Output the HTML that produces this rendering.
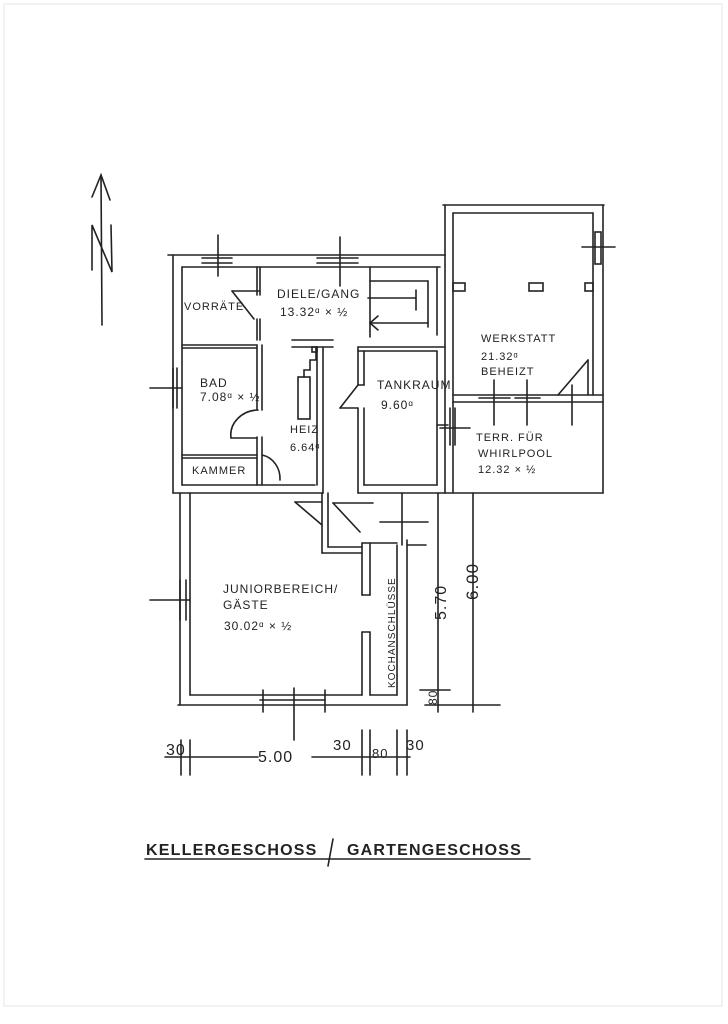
<!DOCTYPE html>
<html><head><style>
html,body{margin:0;padding:0;background:#fff;}
svg{display:block}
text{font-family:"Liberation Sans",sans-serif;fill:#222}
</style></head><body>
<svg width="728" height="1024" viewBox="0 0 728 1024" xmlns="http://www.w3.org/2000/svg">
<rect x="0" y="0" width="728" height="1024" fill="#fff"/>
<rect x="4" y="4" width="718" height="1002" fill="none" stroke="#e4e4e4" stroke-width="1"/>
<g stroke="#222" stroke-width="1.6" fill="none" stroke-linecap="round">
<!-- north arrow -->
<line x1="101" y1="175" x2="102" y2="325"/>
<polyline points="92,197 101,175 110,200"/>
<polyline points="92,270 92,225 112,272 111,225"/>
<!-- upper block outer -->
<line x1="168" y1="255" x2="445" y2="255"/>
<line x1="173" y1="255" x2="173" y2="493"/>
<line x1="182" y1="267" x2="182" y2="485"/>
<line x1="182" y1="267" x2="257" y2="267"/>
<line x1="257" y1="267" x2="440" y2="267"/>
<line x1="173" y1="493" x2="323" y2="493"/>
<line x1="182" y1="485" x2="315" y2="485"/>
<!-- window marks top -->
<line x1="202" y1="258" x2="232" y2="258"/><line x1="202" y1="263" x2="232" y2="263"/>
<line x1="218" y1="235" x2="218" y2="276"/>
<line x1="317" y1="258" x2="358" y2="258"/><line x1="317" y1="263" x2="358" y2="263"/>
<line x1="340" y1="237" x2="340" y2="286"/>
<line x1="445" y1="255" x2="445" y2="493"/>
<line x1="437" y1="267" x2="437" y2="335"/>
<!-- vorraete -->
<line x1="182" y1="345" x2="257" y2="345"/><line x1="182" y1="348" x2="257" y2="348"/>
<line x1="257" y1="267" x2="257" y2="295"/><line x1="260" y1="267" x2="260" y2="295"/>
<line x1="232" y1="291" x2="260" y2="291"/>
<line x1="232" y1="291" x2="254" y2="319"/>
<line x1="257" y1="319" x2="257" y2="340"/><line x1="260" y1="319" x2="260" y2="340"/>
<!-- bad -->
<line x1="257" y1="345" x2="257" y2="410"/><line x1="262" y1="345" x2="262" y2="410"/>
<line x1="257" y1="437" x2="257" y2="485"/><line x1="262" y1="437" x2="262" y2="485"/>
<path d="M258,410 A 28 25 0 0 0 231,438"/>
<line x1="231" y1="438" x2="257" y2="438"/>
<line x1="182" y1="455" x2="257" y2="455"/><line x1="182" y1="458" x2="257" y2="458"/>
<path d="M262,455 A 22 24 0 0 1 280,480"/>
<line x1="150" y1="388" x2="182" y2="388"/><line x1="173" y1="368" x2="173" y2="408"/><line x1="177" y1="368" x2="177" y2="408"/>
<!-- heiz -->
<line x1="292" y1="340" x2="333" y2="340"/><line x1="292" y1="347" x2="333" y2="347"/>
<line x1="317" y1="347" x2="317" y2="485"/><line x1="323" y1="347" x2="323" y2="493"/>
<rect x="298" y="377" width="12" height="42"/>
<polyline points="304,377 304,370 310,370 310,360 316,360 316,347"/>
<rect x="312" y="347" width="5" height="5"/>
<!-- tankraum -->
<line x1="358" y1="347" x2="445" y2="347"/><line x1="358" y1="351" x2="437" y2="351"/>
<line x1="358" y1="347" x2="358" y2="385"/><line x1="364" y1="351" x2="364" y2="385"/>
<line x1="358" y1="385" x2="364" y2="385"/>
<line x1="340" y1="408" x2="358" y2="385"/><line x1="340" y1="408" x2="358" y2="408"/>
<line x1="358" y1="408" x2="358" y2="493"/><line x1="364" y1="408" x2="364" y2="485"/>
<line x1="364" y1="485" x2="437" y2="485"/><line x1="358" y1="493" x2="445" y2="493"/>
<line x1="437" y1="351" x2="437" y2="485"/>
<line x1="437" y1="425" x2="448" y2="425"/>
<!-- stairs -->
<line x1="370" y1="267" x2="370" y2="337"/>
<line x1="370" y1="281" x2="428" y2="281"/>
<line x1="368" y1="298" x2="416" y2="298"/>
<line x1="370" y1="323" x2="428" y2="323"/>
<line x1="428" y1="281" x2="428" y2="327"/><line x1="416" y1="290" x2="416" y2="310"/>
<polyline points="378,316 370,323 378,330"/>
<!-- werkstatt -->
<line x1="443" y1="205" x2="604" y2="205"/>
<line x1="453" y1="213" x2="593" y2="213"/>
<line x1="445" y1="205" x2="445" y2="255"/>
<line x1="453" y1="213" x2="453" y2="402"/>
<line x1="603" y1="205" x2="603" y2="493"/>
<line x1="593" y1="213" x2="593" y2="395"/>
<rect x="595" y="232" width="6" height="32"/><line x1="582" y1="247" x2="615" y2="247"/>
<rect x="453" y="283" width="12" height="8"/><rect x="529" y="283" width="14" height="8"/><rect x="585" y="283" width="8" height="8"/>
<line x1="453" y1="395" x2="603" y2="395"/><line x1="453" y1="402" x2="603" y2="402"/>
<line x1="479" y1="398" x2="510" y2="398"/><line x1="515" y1="398" x2="540" y2="398"/>
<line x1="494" y1="380" x2="494" y2="425"/><line x1="527" y1="380" x2="527" y2="425"/><line x1="572" y1="385" x2="572" y2="425"/>
<line x1="558" y1="395" x2="588" y2="360"/><line x1="588" y1="360" x2="588" y2="395"/>
<!-- terrace -->
<line x1="453" y1="402" x2="453" y2="493"/>
<line x1="445" y1="493" x2="603" y2="493"/>
<line x1="440" y1="428" x2="470" y2="428"/><line x1="450" y1="408" x2="450" y2="445"/><line x1="455" y1="408" x2="455" y2="445"/>
<!-- lower block -->
<line x1="180" y1="493" x2="180" y2="705"/>
<line x1="190" y1="493" x2="190" y2="695"/>
<line x1="178" y1="705" x2="407" y2="705"/>
<line x1="190" y1="695" x2="362" y2="695"/>
<line x1="407" y1="540" x2="407" y2="705"/>
<line x1="397" y1="545" x2="397" y2="695"/>
<line x1="362" y1="543" x2="397" y2="543"/>
<line x1="362" y1="543" x2="362" y2="595"/><line x1="370" y1="543" x2="370" y2="595"/><line x1="362" y1="595" x2="370" y2="595"/>
<line x1="362" y1="632" x2="362" y2="695"/><line x1="370" y1="632" x2="370" y2="695"/><line x1="362" y1="632" x2="370" y2="632"/>
<line x1="370" y1="695" x2="397" y2="695"/>
<line x1="322" y1="493" x2="322" y2="553"/><line x1="328" y1="493" x2="328" y2="547"/>
<line x1="322" y1="553" x2="362" y2="553"/><line x1="328" y1="547" x2="362" y2="547"/>
<line x1="295" y1="502" x2="322" y2="525"/><line x1="295" y1="502" x2="322" y2="502"/>
<line x1="333" y1="503" x2="360" y2="532"/><line x1="333" y1="503" x2="373" y2="503"/>
<line x1="150" y1="600" x2="190" y2="600"/><line x1="180" y1="580" x2="180" y2="620"/><line x1="186" y1="580" x2="186" y2="620"/>
<line x1="260" y1="700" x2="325" y2="700"/><line x1="263" y1="690" x2="263" y2="712"/><line x1="325" y1="690" x2="325" y2="712"/>
<line x1="294" y1="688" x2="294" y2="740"/>
<line x1="380" y1="522" x2="428" y2="522"/><line x1="402" y1="493" x2="402" y2="545"/><line x1="407" y1="545" x2="426" y2="545"/>
<!-- dimension lines -->
<line x1="438" y1="493" x2="438" y2="712"/>
<line x1="473" y1="493" x2="473" y2="712"/>
<line x1="425" y1="705" x2="500" y2="705"/>
<line x1="420" y1="690" x2="450" y2="690"/>
<line x1="165" y1="757" x2="258" y2="757"/><line x1="312" y1="757" x2="410" y2="757"/>
<line x1="181" y1="740" x2="181" y2="775"/><line x1="190" y1="740" x2="190" y2="775"/>
<line x1="362" y1="730" x2="362" y2="775"/><line x1="370" y1="730" x2="370" y2="775"/>
<line x1="397" y1="730" x2="397" y2="775"/><line x1="407" y1="730" x2="407" y2="775"/>
<!-- title underline -->
<line x1="145" y1="859" x2="530" y2="859"/>
<line x1="333" y1="839" x2="328" y2="866"/>
</g>
<g font-size="11" letter-spacing="1">
<text x="184" y="310">VORRÄTE</text>
<text x="277" y="298" font-size="12">DIELE/GANG</text>
<text x="280" y="316" font-size="12">13.32ᵅ × ½</text>
<text x="200" y="387" font-size="12">BAD</text>
<text x="200" y="401" font-size="12">7.08ᵅ × ½</text>
<text x="192" y="474">KAMMER</text>
<text x="290" y="433">HEIZ</text>
<text x="290" y="451">6.64ᵅ</text>
<text x="377" y="389" font-size="12">TANKRAUM</text>
<text x="381" y="409" font-size="12">9.60ᵅ</text>
<text x="481" y="342">WERKSTATT</text>
<text x="481" y="360">21.32ᵅ</text>
<text x="481" y="375">BEHEIZT</text>
<text x="476" y="441">TERR. FÜR</text>
<text x="478" y="457">WHIRLPOOL</text>
<text x="478" y="473">12.32 × ½</text>
<text x="223" y="593" font-size="12">JUNIORBEREICH/</text>
<text x="223" y="609" font-size="12">GÄSTE</text>
<text x="224" y="630" font-size="12">30.02ᵅ × ½</text>
<text transform="translate(395,688) rotate(-90)" font-size="10">KOCHANSCHLÜSSE</text>
<text transform="translate(446,620) rotate(-90)" font-size="16">5.70</text>
<text transform="translate(478,600) rotate(-90)" font-size="17">6.00</text>
<text transform="translate(437,705) rotate(-90)" font-size="12">80</text>
<text x="166" y="755" font-size="16">30</text>
<text x="258" y="762" font-size="16">5.00</text>
<text x="333" y="750" font-size="15">30</text>
<text x="372" y="758" font-size="13">80</text>
<text x="406" y="750" font-size="15">30</text>
<text x="146" y="855" font-size="16" letter-spacing="1.2" font-weight="bold" fill="#333">KELLERGESCHOSS</text>
<text x="347" y="855" font-size="16" letter-spacing="1.2" font-weight="bold" fill="#333">GARTENGESCHOSS</text>
</g>
</svg>
</body></html>
